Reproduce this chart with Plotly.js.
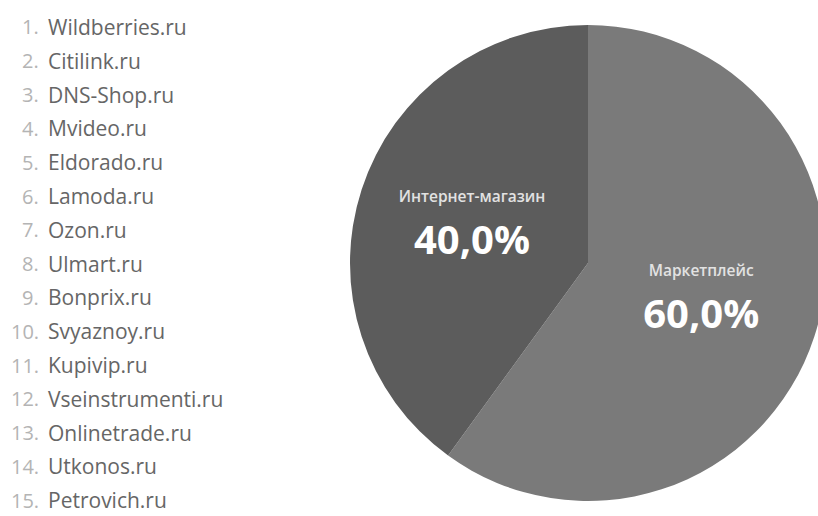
<!DOCTYPE html>
<html>
<head>
<meta charset="utf-8">
<script src="https://cdn.plot.ly/plotly-3.0.1.min.js"></script>
<style>
  html, body { margin: 0; padding: 0; overflow: hidden; background: #ffffff; }
  #chart { width: 900px; height: 516px; }
</style>
</head>
<body>
<div id="chart"></div>
<script>
// Data
const sliceLabels = ["Маркетплейс", "Интернет-магазин"];
const sliceValues = [60, 40];
const sliceColors = ["#7a7a7a", "#5c5c5c"];
const sites = ["Wildberries.ru", "Citilink.ru", "DNS-Shop.ru", "Mvideo.ru", "Eldorado.ru",
  "Lamoda.ru", "Ozon.ru", "Ulmart.ru", "Bonprix.ru", "Svyaznoy.ru", "Kupivip.ru",
  "Vseinstrumenti.ru", "Onlinetrade.ru", "Utkonos.ru", "Petrovich.ru"];

const W = 900, H = 516;
const M = { l: 350, r: 74, t: 25, b: 15 };
const plotW = W - M.l - M.r, plotH = H - M.t - M.b;
const px2x = px => (px - M.l) / plotW;
const py2y = py => 1 - (py - M.t) / plotH;

const annotations = [];
sites.forEach((s, i) => {
  const yy = py2y(27 + i * 33.8);
  annotations.push({
    xref: "paper", yref: "paper", x: px2x(41), y: yy, xanchor: "right", yanchor: "middle",
    text: (i + 1) + ".", showarrow: false,
    font: { family: "Open Sans", size: 20, color: "#b4b4b4" }
  });
  annotations.push({
    xref: "paper", yref: "paper", x: px2x(46), y: yy, xanchor: "left", yanchor: "middle",
    text: s, showarrow: false,
    font: { family: "Open Sans", size: 21, color: "#666666" }
  });
});

const trace = {
  type: "pie",
  labels: sliceLabels,
  values: sliceValues,
  sort: false,
  direction: "clockwise",
  rotation: 0,
  marker: { colors: sliceColors, line: { width: 0 } },
  textposition: "inside",
  insidetextorientation: "horizontal",
  texttemplate: "<span style='font-size:15.5px;font-weight:600;color:#e2e2e2'>%{label}</span><br><b>%{percent:.1%}</b>",
  textfont: { family: "Open Sans", size: 40, color: "#ffffff" },
  hoverinfo: "none",
  showlegend: false
};

const layout = {
  width: W, height: H,
  margin: M,
  paper_bgcolor: "#ffffff",
  plot_bgcolor: "#ffffff",
  separators: ", ",
  showlegend: false,
  annotations: annotations
};

Plotly.newPlot("chart", [trace], layout, { displayModeBar: false, staticPlot: true });
</script>
</body>
</html>
